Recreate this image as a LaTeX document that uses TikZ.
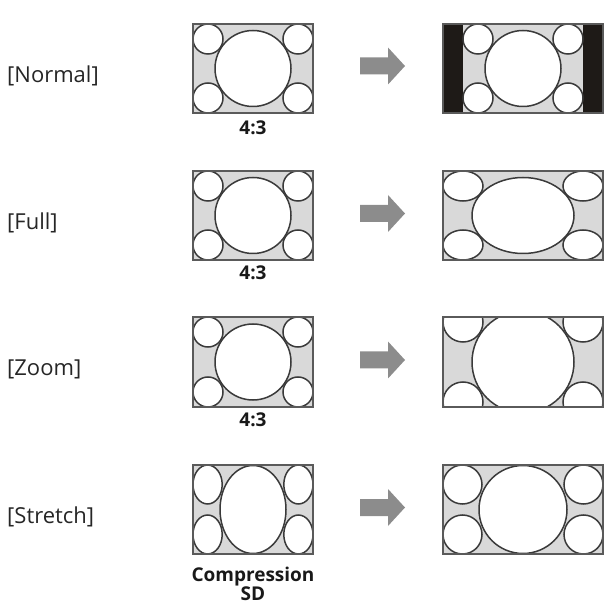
\documentclass[tikz,border=0pt]{standalone}
\usepackage{fontspec}
\setmainfont{Open Sans}
\definecolor{scrgray}{HTML}{D9D9D9}
\definecolor{boxgray}{HTML}{5A5A5A}
\definecolor{linegray}{HTML}{3A3A3A}
\definecolor{arrgray}{HTML}{8C8C8C}
\definecolor{barblack}{HTML}{1E1A17}
\begin{document}
\begin{tikzpicture}[x=1pt,y=-1pt,
  scr/.style={fill=scrgray},
  frame/.style={draw=boxgray,line width=1.3pt},
  circ/.style={fill=white,draw=linegray,line width=1.5pt},
  bar/.style={fill=barblack},
  rowlabel/.style={anchor=west,inner sep=0pt,font=\fontsize{22}{24}\selectfont,text=black!85},
  captext/.style={inner sep=0pt,font=\bfseries\fontsize{19}{18}\selectfont,text=black!90,align=center},
  blockarrow/.style={fill=arrgray}]
\useasboundingbox (0,0) rectangle (606,604);

% ---------- labels ----------
\node[rowlabel] (lNormal) at (7,76) {[Normal]};
\node[rowlabel] (lFull) at (7,222.5) {[Full]};
\node[rowlabel] (lZoom) at (7,369) {[Zoom]};
\node[rowlabel] (lStretch) at (7,517) {[Stretch]};

% ---------- arrows ----------
\foreach \cy in {66,213.5,360,507.5}{
  \fill[blockarrow] (360,\cy-8.5) -- (388,\cy-8.5) -- (388,\cy-18.5) -- (405,\cy)
    -- (388,\cy+18.5) -- (388,\cy+8.5) -- (360,\cy+8.5) -- cycle;
}

% ---------- Row 1: Normal ----------
\fill[scr] (193,24) rectangle (313,113);
\foreach \x/\y in {208/39,298/39,208/98,298/98}{\draw[circ] (\x,\y) circle (15);}
\draw[circ] (253,68.5) circle (38);
\draw[frame] (193,24) rectangle (313,113);
\node[captext] (c1) at (253,128) {4:3};

\fill[scr] (443,24) rectangle (603,113);
\fill[bar] (443,24) rectangle (463,113);
\fill[bar] (583,24) rectangle (603,113);
\foreach \x/\y in {478/39,568/39,478/98,568/98}{\draw[circ] (\x,\y) circle (15);}
\draw[circ] (523,68.5) circle (38);
\draw[frame] (443,24) rectangle (603,113);

% ---------- Row 2: Full ----------
\fill[scr] (193,171) rectangle (313,260);
\foreach \x/\y in {208/186,298/186,208/245,298/245}{\draw[circ] (\x,\y) circle (15);}
\draw[circ] (253,215.5) circle (38);
\draw[frame] (193,171) rectangle (313,260);
\node[captext] (c2) at (253,273) {4:3};

\fill[scr] (443,171) rectangle (603,260);
\foreach \x/\y in {463/186,583/186,463/245,583/245}{\draw[circ] (\x,\y) ellipse [x radius=20,y radius=15];}
\draw[circ] (523,215.5) ellipse [x radius=51,y radius=38];
\draw[frame] (443,171) rectangle (603,260);

% ---------- Row 3: Zoom ----------
\fill[scr] (193,317) rectangle (313,407);
\foreach \x/\y in {208/332,298/332,208/392,298/392}{\draw[circ] (\x,\y) circle (15);}
\draw[circ] (253,362) circle (38);
\draw[frame] (193,317) rectangle (313,407);
\node[captext] (c3) at (253,420) {4:3};

\begin{scope}
\clip (443,317) rectangle (603,407);
\fill[scr] (443,317) rectangle (603,407);
\foreach \x/\y in {463/322,583/322,463/402,583/402}{\draw[circ] (\x,\y) circle (20);}
\draw[circ] (523,362) circle (51);
\end{scope}
\draw[frame] (443,317) rectangle (603,407);

% ---------- Row 4: Stretch ----------
\fill[scr] (193,465) rectangle (313,554);
\foreach \x/\y in {207.6/484.5,298.4/484.5,207.6/534.5,298.4/534.5}{\draw[circ] (\x,\y) ellipse [x radius=14.6,y radius=19.5];}
\draw[circ] (253,509.5) ellipse [x radius=33,y radius=44];
\draw[frame] (193,465) rectangle (313,554);
\node[captext] (c4) at (253,584) {Compression\\SD};

\fill[scr] (443,465) rectangle (603,554);
\foreach \x/\y in {462.5/484.5,583.5/484.5,462.5/534.5,583.5/534.5}{\draw[circ] (\x,\y) circle (19.5);}
\draw[circ] (523,509.5) circle (44);
\draw[frame] (443,465) rectangle (603,554);
\end{tikzpicture}
\end{document}
